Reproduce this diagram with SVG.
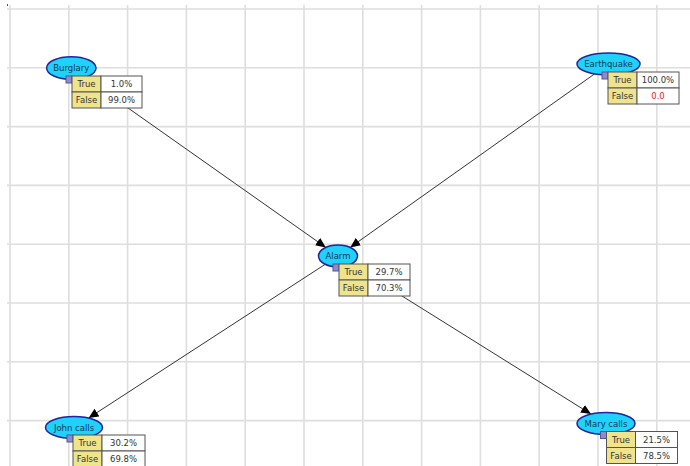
<svg xmlns="http://www.w3.org/2000/svg" width="690" height="466" viewBox="0 0 690 466">
<style>
.grid line{stroke:#dedede;stroke-width:1.6}
.conn line{stroke:#333;stroke-width:1;marker-end:url(#arr)}
.el{fill:#1ed2fb;stroke:#23239a;stroke-width:1.5}
.nl{font-family:"DejaVu Sans",Verdana,sans-serif;font-size:8.5px;fill:#123a5a;text-anchor:middle}
.lab{fill:#efe38c;stroke:#555;stroke-width:1}
.val{fill:#fff;stroke:#555;stroke-width:1}
.tt{font-family:"DejaVu Sans",Verdana,sans-serif;font-size:8.5px;fill:#333;text-anchor:middle}
.red{fill:#ee2222}
.sq{fill:#8c8ccc;stroke:#55559a;stroke-width:1}
</style>
<defs>
<marker id="arr" markerUnits="userSpaceOnUse" markerWidth="11" markerHeight="9" refX="10" refY="4.5" orient="auto">
<path d="M0,0 L10,4.5 L0,9 z" fill="#000"/>
</marker>
</defs>
<rect width="690" height="466" fill="#fff"/>
<g class="grid">
<line x1="10" y1="5" x2="10" y2="466"/>
<line x1="68.8" y1="5" x2="68.8" y2="466"/>
<line x1="127.6" y1="5" x2="127.6" y2="466"/>
<line x1="186.4" y1="5" x2="186.4" y2="466"/>
<line x1="245.2" y1="5" x2="245.2" y2="466"/>
<line x1="304" y1="5" x2="304" y2="466"/>
<line x1="362.8" y1="5" x2="362.8" y2="466"/>
<line x1="421.6" y1="5" x2="421.6" y2="466"/>
<line x1="480.4" y1="5" x2="480.4" y2="466"/>
<line x1="539.2" y1="5" x2="539.2" y2="466"/>
<line x1="598" y1="5" x2="598" y2="466"/>
<line x1="656.8" y1="5" x2="656.8" y2="466"/>
<line x1="7" y1="9" x2="690" y2="9"/>
<line x1="7" y1="67.8" x2="690" y2="67.8"/>
<line x1="7" y1="126.6" x2="690" y2="126.6"/>
<line x1="7" y1="185.4" x2="690" y2="185.4"/>
<line x1="7" y1="244.2" x2="690" y2="244.2"/>
<line x1="7" y1="303" x2="690" y2="303"/>
<line x1="7" y1="361.8" x2="690" y2="361.8"/>
<line x1="7" y1="420.6" x2="690" y2="420.6"/>
</g>
<rect x="7" y="4" width="1" height="2" fill="#555"/>
<g class="conn">
<line x1="71.3" y1="68" x2="325.8" y2="247.4"/>
<line x1="608.5" y1="64" x2="350.2" y2="247.4"/>
<line x1="338" y1="256" x2="88.6" y2="418"/>
<line x1="338" y1="256" x2="591" y2="414.1"/>
</g>
<g id="burglary">
<ellipse class="el" cx="71.3" cy="68" rx="24.7" ry="11.3"/>
<text class="nl" x="71.3" y="71">Burglary</text>
<rect class="sq" x="66" y="76" width="6" height="7"/>
<rect class="lab" x="72" y="76" width="29" height="16"/><rect class="val" x="101" y="76" width="41" height="16"/>
<rect class="lab" x="72" y="92" width="29" height="16"/><rect class="val" x="101" y="92" width="41" height="16"/>
<text class="tt" x="86.5" y="87">True</text><text class="tt" x="121.5" y="87">1.0%</text>
<text class="tt" x="86.5" y="103">False</text><text class="tt" x="121.5" y="103">99.0%</text>
</g>
<g id="earthquake">
<ellipse class="el" cx="608.5" cy="64" rx="31.5" ry="11"/>
<text class="nl" x="608.5" y="67">Earthquake</text>
<rect class="sq" x="602" y="72" width="6" height="7"/>
<rect class="lab" x="608" y="72" width="29" height="16"/><rect class="val" x="637" y="72" width="42" height="16"/>
<rect class="lab" x="608" y="88" width="29" height="16"/><rect class="val" x="637" y="88" width="42" height="16"/>
<text class="tt" x="622.5" y="83">True</text><text class="tt" x="658" y="83">100.0%</text>
<text class="tt" x="622.5" y="99">False</text><text class="tt red" x="658" y="99">0.0</text>
</g>
<g id="alarm">
<ellipse class="el" cx="338" cy="256" rx="19.5" ry="11"/>
<text class="nl" x="338" y="259">Alarm</text>
<rect class="sq" x="333" y="264" width="6" height="7"/>
<rect class="lab" x="339" y="264" width="29" height="16"/><rect class="val" x="368" y="264" width="42" height="16"/>
<rect class="lab" x="339" y="280" width="29" height="16"/><rect class="val" x="368" y="280" width="42" height="16"/>
<text class="tt" x="353.5" y="275">True</text><text class="tt" x="389" y="275">29.7%</text>
<text class="tt" x="353.5" y="291">False</text><text class="tt" x="389" y="291">70.3%</text>
</g>
<g id="johncalls">
<ellipse class="el" cx="74" cy="427.5" rx="28.5" ry="11"/>
<text class="nl" x="74" y="430.5">John calls</text>
<rect class="sq" x="67" y="435" width="6" height="7"/>
<rect class="lab" x="73" y="435" width="29" height="16"/><rect class="val" x="102" y="435" width="43" height="16"/>
<rect class="lab" x="73" y="451" width="29" height="16"/><rect class="val" x="102" y="451" width="43" height="16"/>
<text class="tt" x="87.5" y="446">True</text><text class="tt" x="123.5" y="446">30.2%</text>
<text class="tt" x="87.5" y="462">False</text><text class="tt" x="123.5" y="462">69.8%</text>
</g>
<g id="marycalls">
<ellipse class="el" cx="606" cy="423.5" rx="29" ry="11"/>
<text class="nl" x="606" y="426.5">Mary calls</text>
<rect class="sq" x="600.5" y="431.5" width="6" height="7"/>
<rect class="lab" x="606.5" y="431.5" width="29" height="16"/><rect class="val" x="635.5" y="431.5" width="42" height="16"/>
<rect class="lab" x="606.5" y="447.5" width="29" height="16"/><rect class="val" x="635.5" y="447.5" width="42" height="16"/>
<text class="tt" x="621" y="442.5">True</text><text class="tt" x="656.5" y="442.5">21.5%</text>
<text class="tt" x="621" y="458.5">False</text><text class="tt" x="656.5" y="458.5">78.5%</text>
</g>
</svg>
